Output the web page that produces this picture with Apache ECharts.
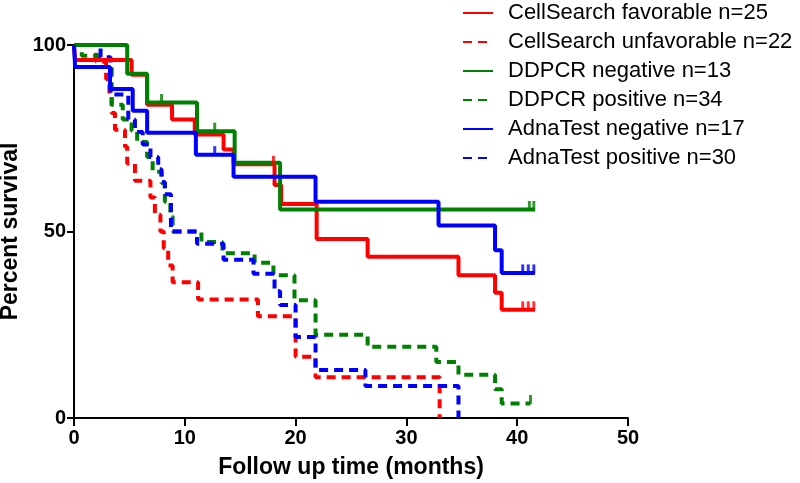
<!DOCTYPE html>
<html>
<head>
<meta charset="utf-8">
<script src="https://cdn.jsdelivr.net/npm/echarts@6/dist/echarts.min.js"></script>
<style>html,body{margin:0;padding:0;background:#fff}#c{width:800px;height:483px}</style>
</head>
<body>
<div id="c"></div>
<script>
// Kaplan-Meier curves: [time (months), percent survival after the step]
const csFav = [[0,100],[0.1,96],[5.2,92],[6.6,84],[8.85,80],[10.9,76],[13.5,72],[14.4,68],[18.1,62.5],[18.7,57.4],[21.9,48],[26.5,43.2],[34.7,38.3],[38.0,33.6],[38.6,29],[41.6,29]];
const csUnf = [[0,100],[2.0,95.5],[2.9,90.9],[3.2,86.4],[3.4,81.8],[3.7,77.3],[4.6,72.7],[4.8,68.2],[5.5,63.6],[6.9,59.1],[7.3,54.5],[7.8,50],[8.1,45.5],[8.5,40.9],[8.9,36.4],[11.2,31.8],[16.6,27.3],[20.0,16.4],[21.8,10.9],[33.0,0]];
const ddNeg = [[0,100],[4.8,92.3],[6.6,84.6],[11.1,76.9],[14.5,68.4],[18.6,55.9],[41.6,55.9]];
const ddPos = [[0,100],[0.7,97.1],[2.2,94.1],[3.4,84],[4.4,80],[5.2,77],[5.7,74],[6.6,70],[7.1,66],[7.9,63],[8.2,58],[8.7,54],[8.9,50],[11.5,47.2],[13.4,44.2],[16.3,41.6],[18.0,38.3],[19.9,31.6],[21.8,22.3],[26.5,19.1],[32.7,15],[34.7,11.6],[38.0,7.7],[38.6,3.9],[41.2,3.9]];
const adNeg = [[0,100],[0.1,94.1],[3.25,88.2],[5.3,82.4],[6.6,76.5],[11.0,70.6],[14.4,64.7],[21.8,58],[32.9,51.6],[38.0,45],[38.6,38.9],[41.6,38.9]];
const adPos = [[0,100],[2.4,96.7],[3.3,86.7],[4.9,80],[5.5,76.7],[6.2,73.3],[6.9,70],[7.6,66.7],[7.9,63.3],[8.2,60],[8.75,50],[11.1,46.7],[13.5,42.4],[16.2,38.7],[18.1,34],[18.6,30.3],[20.0,21.7],[21.8,12.9],[26.3,8.6],[34.7,0]];

// Censored observations: [time, percent]
const csFavCens = [[18.0,68],[40.5,29],[41.0,29],[41.5,29]];
const ddNegCens = [[7.9,84.6],[12.7,76.9],[41.1,55.9],[41.5,55.9]];
const ddPosCens = [[41.2,3.9]];
const adNegCens = [[12.7,70.6],[40.5,38.9],[41.0,38.9],[41.5,38.9]];

const seriesNames = ['CellSearch favorable n=25','CellSearch unfavorable n=22','DDPCR negative n=13','DDPCR positive n=34','AdnaTest negative n=17','AdnaTest positive n=30'];
const xTicks = [0,10,20,30,40,50];
const yTicks = [0,50,100];

const RED = '#ff0000', GREEN = '#008000', BLUE = '#0000ff';
const DASH = [9,6];
const SANS = '"Liberation Sans", Arial, sans-serif';

function km(name, data, color, dashed){
  return {
    name: name, type: 'line', step: 'end', data: data, symbol: 'none', showSymbol: false,
    lineStyle: {color: color, width: 4, type: dashed ? DASH : 'solid', cap: 'butt'},
    itemStyle: {color: color}, z: dashed ? 3 : 4, animation: false
  };
}
function cens(data, color){
  return {
    name: 'cens', type: 'scatter', data: data, symbol: 'rect', symbolSize: [3, 9],
    symbolOffset: [0, -4], itemStyle: {color: color}, z: 5, animation: false, silent: true
  };
}

const chart = echarts.init(document.getElementById('c'), null, {renderer: 'canvas'});
chart.setOption({
  backgroundColor: '#fff',
  animation: false,
  grid: {left: 74, right: 172, top: 45, bottom: 65, containLabel: false, outerBoundsMode: 'none'},
  legend: {
    data: seriesNames, orient: 'vertical', left: 462, top: 2, padding: 0,
    itemWidth: 30, itemHeight: 14, itemGap: 7,
    itemStyle: {opacity: 0},
    textStyle: {fontFamily: SANS, fontSize: 22, color: '#000', lineHeight: 22, padding: [0,0,0,10]},
    selectedMode: false
  },
  xAxis: {
    type: 'value', min: 0, max: 50, interval: 10,
    name: 'Follow up time (months)', nameLocation: 'middle', nameGap: 38,
    nameTextStyle: {fontFamily: SANS, fontWeight: 'bold', fontSize: 23, color: '#000'},
    axisLine: {show: true, onZero: false, lineStyle: {color: '#000', width: 2}},
    axisTick: {show: true, length: 8, lineStyle: {color: '#000', width: 2}},
    axisLabel: {fontFamily: SANS, fontWeight: 'bold', fontSize: 20, color: '#000', margin: 10,
      formatter: v => xTicks.includes(v) ? String(v) : ''},
    splitLine: {show: false}
  },
  yAxis: {
    type: 'value', min: 0, max: 100, interval: 50,
    name: 'Percent survival', nameLocation: 'middle', nameGap: 44,
    nameTextStyle: {fontFamily: SANS, fontWeight: 'bold', fontSize: 23, color: '#000'},
    axisLine: {show: true, lineStyle: {color: '#000', width: 2}},
    axisTick: {show: true, length: 7, lineStyle: {color: '#000', width: 2}},
    axisLabel: {fontFamily: SANS, fontWeight: 'bold', fontSize: 20, color: '#000', margin: 8,
      formatter: v => yTicks.includes(v) ? String(v) : ''},
    splitLine: {show: false}
  },
  series: [
    km(seriesNames[0], csFav, RED, false),
    km(seriesNames[1], csUnf, RED, true),
    km(seriesNames[2], ddNeg, GREEN, false),
    km(seriesNames[3], ddPos, GREEN, true),
    km(seriesNames[4], adNeg, BLUE, false),
    km(seriesNames[5], adPos, BLUE, true),
    cens(csFavCens, RED), cens(ddNegCens, GREEN), cens(ddPosCens, GREEN), cens(adNegCens, BLUE)
  ]
});
</script>
</body>
</html>
